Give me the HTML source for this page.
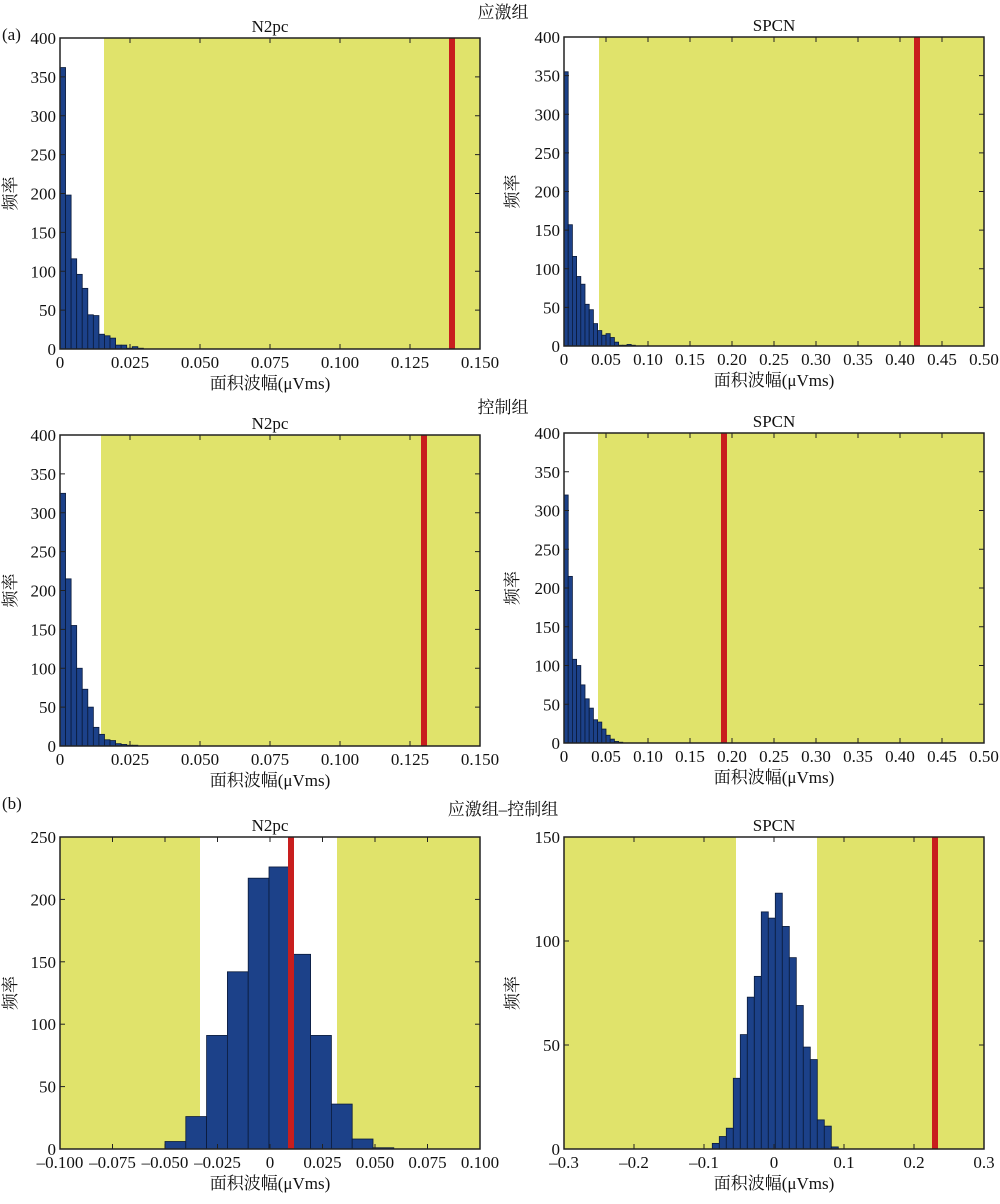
<!DOCTYPE html><html><head><meta charset="utf-8"><style>
body{margin:0;background:#fff}
svg text{font-family:"Liberation Serif","Noto Serif CJK SC",serif;fill:#111}
</style></head><body>
<svg id="s" width="1000" height="1199" viewBox="0 0 1000 1199" xmlns="http://www.w3.org/2000/svg">
<text x="503" y="18" font-size="17" text-anchor="middle">应激组</text>
<text x="503" y="413" font-size="17" text-anchor="middle">控制组</text>
<text x="503" y="815" font-size="17" text-anchor="middle">应激组–控制组</text>
<text x="2" y="40" font-size="17">(a)</text>
<text x="2" y="809" font-size="17">(b)</text>
</svg>
<script>
const NS="http://www.w3.org/2000/svg",S=document.getElementById('s');
function el(t,a,txt){const e=document.createElementNS(NS,t);for(const k in a)e.setAttribute(k,a[k]);if(txt!=null)e.textContent=txt;S.appendChild(e);return e}
function panel(p){
 const {x0,x1,y0,y1,xmin,xmax,ymax}=p;
 const X=v=>x0+(v-xmin)/(xmax-xmin)*(x1-x0), Y=v=>y1-v/ymax*(y1-y0);
 el('rect',{x:x0,y:y0,width:x1-x0,height:y1-y0,fill:'#fff'});
 for(const [a,b] of p.yellow) el('rect',{x:a,y:y0,width:b-a,height:y1-y0,fill:'#e0e36b'});
 let bx=p.bstart;
 for(const h of p.bars){ if(h>0) el('rect',{x:bx,y:Y(h),width:p.bw,height:y1-Y(h),fill:'#1c4189',stroke:'#0a1a3a','stroke-width':0.8}); bx+=p.bw;}
 el('rect',{x:p.red-3,y:y0,width:6,height:y1-y0,fill:'#c81e1e'});
 el('rect',{x:x0,y:y0,width:x1-x0,height:y1-y0,fill:'none',stroke:'#222','stroke-width':1.5});
 for(const t of p.xt){const xx=X(t[0]);el('line',{x1:xx,y1:y1,x2:xx,y2:y1-5,stroke:'#222'});el('line',{x1:xx,y1:y0,x2:xx,y2:y0+5,stroke:'#222'});
  el('text',{x:xx,y:y1+19,'font-size':17,'text-anchor':'middle'},t[1]);}
 for(const t of p.yt){const yy=Y(t);el('line',{x1:x0,y1:yy,x2:x0+5,y2:yy,stroke:'#222'});el('line',{x1:x1,y1:yy,x2:x1-5,y2:yy,stroke:'#222'});
  el('text',{x:x0-4,y:yy+6,'font-size':17,'text-anchor':'end'},t);}
 el('text',{x:(x0+x1)/2,y:y0-6,'font-size':17,'text-anchor':'middle'},p.title);
 el('text',{x:(x0+x1)/2,y:y1+40,'font-size':17,'text-anchor':'middle'},'面积波幅(μVms)');
 const ly=(y0+y1)/2;el('text',{x:0,y:0,'font-size':17,'text-anchor':'middle',transform:`translate(${p.ylx},${ly}) rotate(-90)`},'频率');
}
const xtA=[[0,'0'],[0.025,'0.025'],[0.05,'0.050'],[0.075,'0.075'],[0.1,'0.100'],[0.125,'0.125'],[0.15,'0.150']];
const xtB=[];for(let i=0;i<=10;i++){const v=i*0.05;xtB.push([v,i==0?'0':v.toFixed(2)])}
const yt4=[0,50,100,150,200,250,300,350,400];
panel({x0:60,x1:480,y0:38,y1:349,xmin:0,xmax:0.15,ymax:400,yellow:[[104,480]],bstart:60,bw:5.56,
 bars:[362,198,116,96,78,44,43,19,17,14,5,5,1,3,1],red:452,xt:xtA,yt:yt4,title:'N2pc',ylx:16});
panel({x0:564,x1:984,y0:37,y1:346,xmin:0,xmax:0.5,ymax:400,yellow:[[599,984]],bstart:564,bw:4.2,
 bars:[355,157,116,90,80,54,47,29,20,14,16,11,5,1,1,2,1],red:917,xt:xtB,yt:yt4,title:'SPCN',ylx:518});
panel({x0:60,x1:480,y0:435,y1:746,xmin:0,xmax:0.15,ymax:400,yellow:[[101,480]],bstart:60,bw:5.56,
 bars:[325,215,155,100,73,50,24,15,8,7,3,2,1,1],red:424,xt:xtA,yt:yt4,title:'N2pc',ylx:16});
panel({x0:564,x1:984,y0:433,y1:743,xmin:0,xmax:0.5,ymax:400,yellow:[[598,984]],bstart:564,bw:4.2,
 bars:[320,215,108,100,75,57,45,30,27,18,10,5,2,1],red:724,xt:xtB,yt:yt4,title:'SPCN',ylx:518});
const xtC=[];for(let i=-4;i<=4;i++){const v=i*0.025;xtC.push([v,i==0?'0':(v<0?'–':'')+Math.abs(v).toFixed(3)])}
panel({x0:60,x1:480,y0:837,y1:1149,xmin:-0.1,xmax:0.1,ymax:250,yellow:[[60,200],[337,480]],bstart:165,bw:20.8,
 bars:[6,26,91,142,217,226,156,91,36,8,1],red:291,xt:xtC,yt:[0,50,100,150,200,250],title:'N2pc',ylx:16});
const xtD=[];for(let i=-3;i<=3;i++){const v=i*0.1;xtD.push([v,i==0?'0':(v<0?'–':'')+Math.abs(v).toFixed(1)])}
panel({x0:564,x1:984,y0:837,y1:1149,xmin:-0.3,xmax:0.3,ymax:150,yellow:[[564,736],[817,984]],bstart:712.3,bw:7,
 bars:[2.7,6,10,34,55,73,83,114,111,123,107,92,69,49,43,14,11,1],red:935,xt:xtD,yt:[0,50,100,150],title:'SPCN',ylx:518});
</script>
</body></html>
